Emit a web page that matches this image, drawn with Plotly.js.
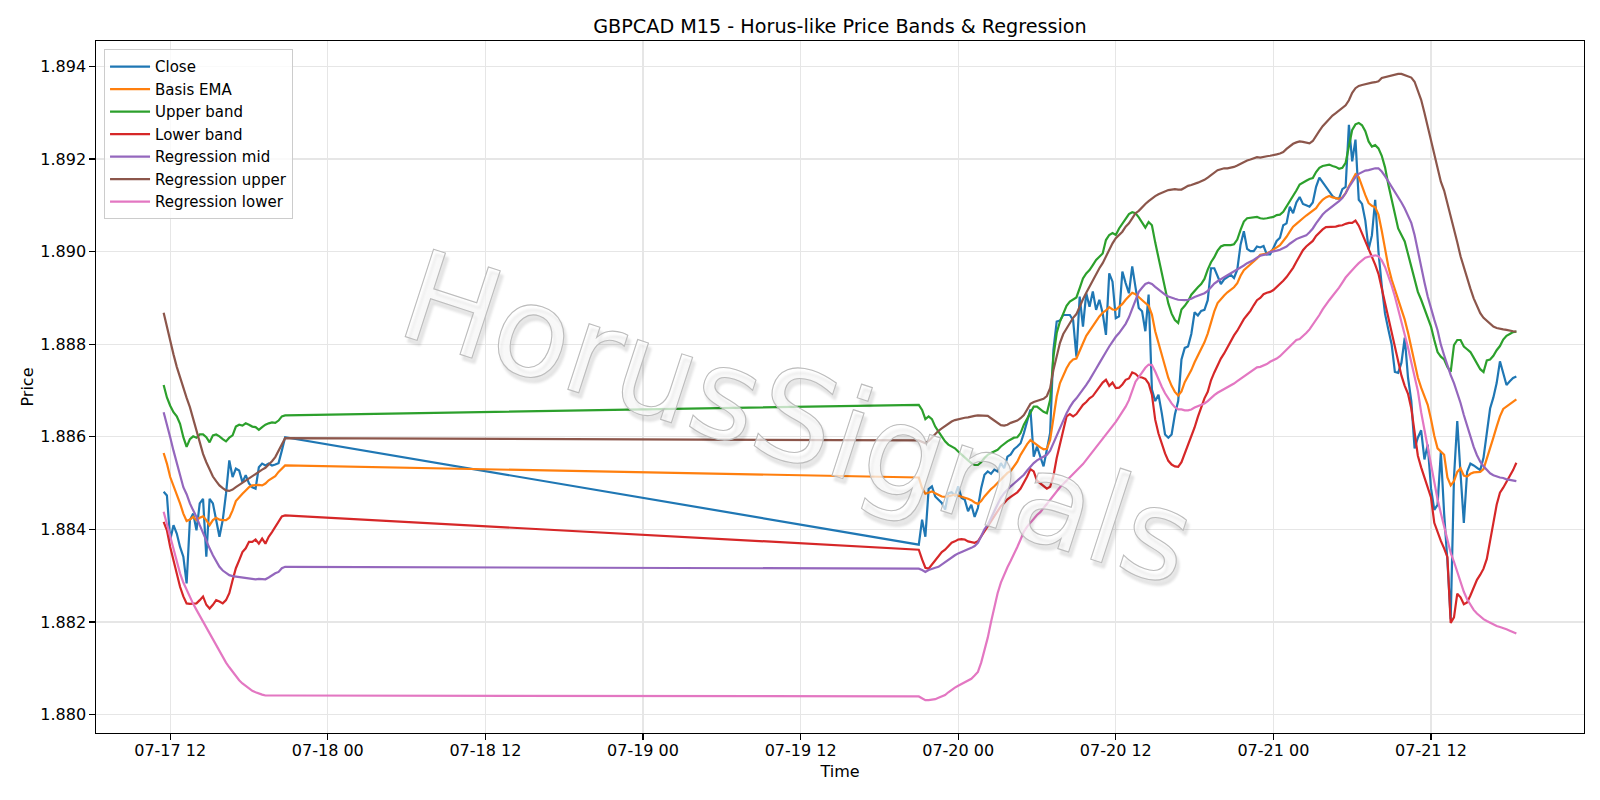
<!DOCTYPE html>
<html>
<head>
<meta charset="utf-8">
<script src="https://cdn.plot.ly/plotly-3.0.1.min.js"></script>
<style>
html,body{margin:0;padding:0;background:#fff;}
#chart{width:1600px;height:800px;}
#chart .annotation-text{stroke:#bcbcbc;stroke-width:1.1px;}
</style>
</head>
<body>
<div id="chart"></div>
<script>
// ---- data (GBPCAD M15) ----
const preStart = '2020-07-17 11:30';   // first session segment
const postStart = '2020-07-19 21:00';  // after weekend gap
const stepMinutes = 15;

const closePre = [1.88481,1.88473,1.88377,1.88409,1.88391,1.88362,1.88341,1.88283,1.88420,1.88434,1.88398,1.88456,1.88466,1.88341,1.88466,1.88456,1.88420,1.88384,1.88420,1.88477,1.88549,1.88513,1.88531,1.88527,1.88502,1.88517,1.88499,1.88491,1.88488,1.88534,1.88542,1.88538,1.88542,1.88538,1.88540,1.88543,1.88570,1.88599];
const closePost = [1.88367,1.88421,1.88384,1.88487,1.88493,1.88471,1.88464,1.88457,1.88443,1.88478,
1.88480,1.88473,1.88493,1.88468,1.88464,1.88439,1.88453,1.88427,1.88446,1.88489,
1.88518,1.88525,1.88520,1.88529,1.88525,1.88543,1.88532,1.88557,1.88562,1.88573,
1.88579,1.88586,1.88608,1.88633,1.88659,1.88557,1.88579,1.88557,1.88536,1.88572,
1.88608,1.88788,1.88849,1.88851,1.88863,1.88863,1.88863,1.88852,1.88773,1.88903,
1.88838,1.88910,1.88881,1.88914,1.88874,1.88896,1.88867,1.88820,1.88953,1.88935,
1.88856,1.88860,1.88957,1.88932,1.88910,1.88968,1.88925,1.88878,1.88871,1.88828,
1.88907,1.88702,1.88677,1.88691,1.88651,1.88605,1.88598,1.88605,1.88648,1.88677,
1.88767,1.88792,1.88795,1.88822,1.88869,1.88862,1.88872,1.88874,1.88895,1.88964,
1.88964,1.88946,1.88930,1.88940,1.88945,1.88950,1.88943,1.88961,1.89015,1.89044,
1.89006,1.89001,1.89001,1.89011,1.89009,1.89012,1.88994,1.88994,1.89008,1.89023,
1.89030,1.89057,1.89061,1.89097,1.89083,1.89106,1.89118,1.89103,1.89100,1.89097,
1.89106,1.89140,1.89160,1.89150,1.89138,1.89128,1.89120,1.89115,1.89115,1.89135,
1.89140,1.89274,1.89195,1.89242,1.89112,1.89103,1.89067,1.89005,1.89035,1.89112,
1.89000,1.88926,1.88866,1.88832,1.88800,1.88740,1.88738,1.88760,1.88814,1.88728,
1.88677,1.88575,1.88598,1.88614,1.88551,1.88583,1.88489,1.88442,1.88453,1.88567,
1.88434,1.88332,1.88206,1.88512,1.88634,1.88520,1.88414,1.88524,1.88542,1.88538,
1.88532,1.88528,1.88555,1.88606,1.88661,1.88685,1.88716,1.88763,1.88736,1.88712,
1.88720,1.88727,1.88730];

const emaPre = [1.88565,1.88542,1.88513,1.88495,1.88477,1.88456,1.88434,1.88418,1.88421,1.88427,1.88420,1.88425,1.88428,1.88420,1.88409,1.88420,1.88425,1.88421,1.88420,1.88420,1.88425,1.88441,1.88461,1.88470,1.88477,1.88484,1.88491,1.88495,1.88496,1.88496,1.88495,1.88499,1.88506,1.88511,1.88515,1.88524,1.88531,1.88538];
const emaPost = [1.88512,1.88489,1.88477,1.88480,1.88482,1.88478,1.88475,1.88471,1.88470,1.88471,
1.88473,1.88475,1.88473,1.88471,1.88469,1.88466,1.88463,1.88458,1.88455,1.88461,
1.88471,1.88480,1.88487,1.88493,1.88500,1.88507,1.88514,1.88522,1.88526,1.88537,
1.88546,1.88561,1.88573,1.88584,1.88593,1.88587,1.88582,1.88577,1.88573,1.88574,
1.88593,1.88644,1.88687,1.88716,1.88734,1.88748,1.88760,1.88767,1.88769,1.88784,
1.88802,1.88818,1.88829,1.88839,1.88849,1.88860,1.88868,1.88873,1.88880,1.88875,
1.88874,1.88880,1.88887,1.88896,1.88903,1.88911,1.88908,1.88901,1.88894,1.88889,
1.88883,1.88864,1.88828,1.88804,1.88777,1.88751,1.88727,1.88710,1.88697,1.88689,
1.88698,1.88718,1.88731,1.88744,1.88761,1.88775,1.88790,1.88804,1.88823,1.88849,
1.88871,1.88889,1.88898,1.88905,1.88912,1.88918,1.88923,1.88932,1.88948,1.88960,
1.88966,1.88972,1.88979,1.88985,1.88993,1.88994,1.88996,1.89000,1.89004,1.89009,
1.89014,1.89022,1.89032,1.89043,1.89054,1.89060,1.89065,1.89072,1.89078,1.89083,
1.89088,1.89094,1.89104,1.89112,1.89117,1.89120,1.89117,1.89115,1.89114,1.89117,
1.89126,1.89141,1.89155,1.89167,1.89161,1.89140,1.89122,1.89105,1.89099,1.89096,
1.89080,1.89045,1.89003,1.88968,1.88940,1.88918,1.88898,1.88877,1.88853,1.88825,
1.88792,1.88756,1.88728,1.88706,1.88686,1.88669,1.88638,1.88602,1.88575,1.88567,
1.88561,1.88512,1.88495,1.88504,1.88524,1.88532,1.88516,1.88514,1.88520,1.88523,
1.88524,1.88524,1.88530,1.88551,1.88575,1.88598,1.88622,1.88644,1.88660,1.88665,
1.88672,1.88677,1.88681];

const upperPre = [1.88712,1.88685,1.88667,1.88653,1.88644,1.88628,1.88599,1.88578,1.88595,1.88601,1.88598,1.88605,1.88605,1.88599,1.88588,1.88603,1.88605,1.88601,1.88595,1.88590,1.88598,1.88603,1.88622,1.88626,1.88624,1.88629,1.88626,1.88622,1.88621,1.88615,1.88621,1.88626,1.88629,1.88631,1.88630,1.88635,1.88644,1.88646];
const upperPost = [1.88669,1.88658,1.88638,1.88644,1.88638,1.88622,1.88611,1.88600,1.88590,1.88583,
1.88579,1.88575,1.88568,1.88561,1.88554,1.88549,1.88543,1.88539,1.88539,1.88545,
1.88554,1.88561,1.88565,1.88568,1.88572,1.88579,1.88585,1.88590,1.88594,1.88598,
1.88599,1.88608,1.88626,1.88640,1.88654,1.88665,1.88665,1.88659,1.88654,1.88651,
1.88680,1.88773,1.88824,1.88849,1.88868,1.88883,1.88892,1.88896,1.88901,1.88921,
1.88942,1.88953,1.88960,1.88971,1.88982,1.88989,1.88996,1.89025,1.89036,1.89040,
1.89036,1.89050,1.89061,1.89072,1.89081,1.89085,1.89083,1.89074,1.89063,1.89052,
1.89064,1.89057,1.89020,1.88988,1.88954,1.88918,1.88888,1.88866,1.88852,1.88846,
1.88875,1.88883,1.88893,1.88907,1.88916,1.88923,1.88930,1.88941,1.88961,1.88977,
1.88988,1.89002,1.89011,1.89014,1.89014,1.89014,1.89016,1.89026,1.89047,1.89065,
1.89072,1.89073,1.89073,1.89075,1.89072,1.89071,1.89072,1.89073,1.89075,1.89079,
1.89080,1.89086,1.89097,1.89110,1.89122,1.89132,1.89145,1.89150,1.89153,1.89157,
1.89159,1.89172,1.89181,1.89185,1.89186,1.89188,1.89185,1.89183,1.89179,1.89181,
1.89192,1.89232,1.89263,1.89275,1.89278,1.89273,1.89260,1.89238,1.89227,1.89230,
1.89223,1.89207,1.89182,1.89145,1.89115,1.89086,1.89050,1.89036,1.89022,1.88995,
1.88967,1.88938,1.88913,1.88896,1.88877,1.88861,1.88838,1.88809,1.88783,1.88773,
1.88767,1.88751,1.88740,1.88798,1.88809,1.88809,1.88795,1.88789,1.88783,1.88771,
1.88759,1.88746,1.88740,1.88765,1.88767,1.88775,1.88787,1.88796,1.88810,1.88818,
1.88822,1.88826,1.88827];

const lowerPre = [1.88416,1.88398,1.88362,1.88333,1.88305,1.88276,1.88255,1.88240,1.88239,1.88239,1.88240,1.88247,1.88255,1.88237,1.88229,1.88237,1.88247,1.88244,1.88240,1.88247,1.88262,1.88290,1.88316,1.88333,1.88351,1.88359,1.88373,1.88373,1.88378,1.88369,1.88380,1.88369,1.88384,1.88394,1.88405,1.88416,1.88428,1.88430];
const lowerPost = [1.88356,1.88335,1.88317,1.88315,1.88324,1.88335,1.88344,1.88351,1.88356,1.88364,
1.88371,1.88374,1.88378,1.88379,1.88378,1.88374,1.88372,1.88371,1.88374,1.88385,
1.88396,1.88407,1.88417,1.88428,1.88439,1.88450,1.88457,1.88465,1.88470,1.88475,
1.88480,1.88488,1.88500,1.88514,1.88530,1.88525,1.88505,1.88500,1.88494,1.88488,
1.88492,1.88515,1.88554,1.88586,1.88615,1.88644,1.88649,1.88644,1.88649,1.88658,
1.88669,1.88675,1.88683,1.88688,1.88697,1.88706,1.88717,1.88723,1.88710,1.88717,
1.88705,1.88706,1.88713,1.88723,1.88726,1.88739,1.88736,1.88729,1.88728,1.88725,
1.88715,1.88691,1.88637,1.88607,1.88583,1.88564,1.88548,1.88540,1.88536,1.88535,
1.88545,1.88563,1.88582,1.88601,1.88620,1.88643,1.88663,1.88683,1.88697,1.88722,
1.88739,1.88756,1.88769,1.88780,1.88794,1.88808,1.88819,1.88829,1.88842,1.88854,
1.88863,1.88872,1.88884,1.88895,1.88900,1.88908,1.88911,1.88913,1.88917,1.88923,
1.88930,1.88937,1.88945,1.88955,1.88965,1.88978,1.88990,1.89003,1.89011,1.89016,
1.89023,1.89034,1.89042,1.89048,1.89053,1.89053,1.89053,1.89054,1.89056,1.89057,
1.89060,1.89062,1.89062,1.89067,1.89056,1.89039,1.89023,1.89008,1.88987,1.88972,
1.88952,1.88921,1.88890,1.88852,1.88825,1.88796,1.88760,1.88732,1.88710,1.88693,
1.88661,1.88606,1.88559,1.88534,1.88512,1.88495,1.88469,1.88414,1.88393,1.88375,
1.88359,1.88340,1.88198,1.88210,1.88261,1.88253,1.88238,1.88242,1.88257,1.88275,
1.88291,1.88302,1.88315,1.88336,1.88371,1.88414,1.88453,1.88479,1.88490,1.88502,
1.88514,1.88528,1.88544];

const regMidPre = [1.88653,1.88628,1.88599,1.88570,1.88542,1.88517,1.88491,1.88476,1.88456,1.88441,1.88427,1.88409,1.88391,1.88373,1.88359,1.88344,1.88330,1.88319,1.88311,1.88305,1.88301,1.88299,1.88298,1.88296,1.88295,1.88294,1.88293,1.88293,1.88292,1.88293,1.88292,1.88292,1.88296,1.88301,1.88305,1.88308,1.88316,1.88319];
const regMidPost = [1.88315,1.88312,1.88308,1.88312,1.88315,1.88317,1.88319,1.88324,1.88329,1.88335,
1.88340,1.88344,1.88348,1.88351,1.88354,1.88356,1.88360,1.88364,1.88371,1.88385,
1.88400,1.88410,1.88425,1.88439,1.88453,1.88468,1.88478,1.88486,1.88493,1.88499,
1.88505,1.88511,1.88518,1.88527,1.88536,1.88543,1.88549,1.88553,1.88556,1.88561,
1.88570,1.88586,1.88602,1.88621,1.88636,1.88651,1.88664,1.88675,1.88683,1.88692,
1.88701,1.88712,1.88723,1.88734,1.88747,1.88759,1.88770,1.88783,1.88795,1.88806,
1.88816,1.88824,1.88834,1.88844,1.88858,1.88877,1.88896,1.88913,1.88922,1.88930,
1.88933,1.88930,1.88924,1.88918,1.88912,1.88907,1.88903,1.88900,1.88898,1.88896,
1.88895,1.88895,1.88896,1.88898,1.88902,1.88905,1.88907,1.88910,1.88915,1.88924,
1.88931,1.88936,1.88941,1.88945,1.88949,1.88953,1.88957,1.88961,1.88965,1.88970,
1.88975,1.88978,1.88982,1.88987,1.88991,1.88993,1.88994,1.88999,1.89000,1.89002,
1.89004,1.89007,1.89011,1.89017,1.89023,1.89027,1.89030,1.89032,1.89035,1.89042,
1.89050,1.89061,1.89071,1.89080,1.89087,1.89092,1.89099,1.89104,1.89109,1.89116,
1.89126,1.89139,1.89150,1.89161,1.89168,1.89172,1.89175,1.89176,1.89178,1.89180,
1.89180,1.89173,1.89163,1.89152,1.89138,1.89127,1.89117,1.89106,1.89093,1.89079,
1.89062,1.89036,1.89000,1.88968,1.88934,1.88903,1.88876,1.88853,1.88830,1.88799,
1.88776,1.88753,1.88733,1.88716,1.88696,1.88673,1.88647,1.88624,1.88600,1.88578,
1.88560,1.88546,1.88536,1.88528,1.88521,1.88517,1.88514,1.88512,1.88511,1.88508,
1.88507,1.88505,1.88504];

const regUpPre = [1.88868,1.88836,1.88804,1.88778,1.88751,1.88727,1.88703,1.88684,1.88664,1.88639,1.88610,1.88588,1.88563,1.88545,1.88531,1.88514,1.88504,1.88495,1.88489,1.88484,1.88483,1.88486,1.88491,1.88496,1.88501,1.88506,1.88511,1.88516,1.88520,1.88525,1.88529,1.88533,1.88539,1.88547,1.88556,1.88569,1.88583,1.88597];
const regUpPost = [1.88592,1.88589,1.88586,1.88591,1.88599,1.88606,1.88613,1.88618,1.88623,1.88629,
1.88633,1.88636,1.88638,1.88639,1.88641,1.88642,1.88644,1.88645,1.88646,1.88646,
1.88646,1.88645,1.88640,1.88635,1.88629,1.88625,1.88624,1.88626,1.88630,1.88633,
1.88635,1.88640,1.88647,1.88659,1.88671,1.88675,1.88677,1.88680,1.88682,1.88688,
1.88705,1.88744,1.88777,1.88803,1.88822,1.88834,1.88847,1.88857,1.88865,1.88883,
1.88897,1.88911,1.88925,1.88937,1.88950,1.88964,1.88975,1.88989,1.89006,1.89018,
1.89029,1.89036,1.89043,1.89054,1.89061,1.89072,1.89083,1.89088,1.89096,1.89103,
1.89109,1.89115,1.89120,1.89124,1.89127,1.89130,1.89133,1.89134,1.89135,1.89134,
1.89134,1.89138,1.89142,1.89144,1.89146,1.89149,1.89152,1.89155,1.89160,1.89165,
1.89171,1.89176,1.89178,1.89180,1.89180,1.89181,1.89183,1.89186,1.89190,1.89193,
1.89197,1.89199,1.89201,1.89204,1.89203,1.89205,1.89206,1.89207,1.89208,1.89210,
1.89212,1.89215,1.89222,1.89228,1.89233,1.89236,1.89238,1.89237,1.89236,1.89234,
1.89239,1.89251,1.89261,1.89271,1.89279,1.89287,1.89294,1.89299,1.89305,1.89310,
1.89316,1.89327,1.89343,1.89353,1.89358,1.89360,1.89362,1.89363,1.89365,1.89366,
1.89368,1.89375,1.89377,1.89379,1.89381,1.89383,1.89384,1.89384,1.89381,1.89379,
1.89376,1.89367,1.89346,1.89328,1.89300,1.89271,1.89238,1.89210,1.89179,1.89151,
1.89132,1.89104,1.89081,1.89049,1.89020,1.88990,1.88965,1.88944,1.88920,1.88899,
1.88881,1.88867,1.88857,1.88851,1.88844,1.88838,1.88835,1.88833,1.88832,1.88831,
1.88829,1.88828,1.88827];

const regLowPre = [1.88438,1.88412,1.88384,1.88355,1.88330,1.88305,1.88285,1.88269,1.88253,1.88239,1.88226,1.88213,1.88200,1.88187,1.88174,1.88161,1.88148,1.88136,1.88124,1.88112,1.88102,1.88092,1.88082,1.88074,1.88067,1.88061,1.88056,1.88051,1.88048,1.88045,1.88043,1.88041,1.88041,1.88041,1.88041,1.88041,1.88041,1.88041];
const regLowPost = [1.88039,1.88035,1.88031,1.88031,1.88032,1.88033,1.88036,1.88039,1.88042,1.88048,
1.88054,1.88058,1.88062,1.88066,1.88069,1.88073,1.88077,1.88084,1.88092,1.88112,
1.88138,1.88166,1.88200,1.88232,1.88262,1.88285,1.88303,1.88318,1.88332,1.88346,
1.88362,1.88378,1.88395,1.88406,1.88415,1.88424,1.88431,1.88437,1.88446,1.88455,
1.88465,1.88474,1.88483,1.88491,1.88498,1.88505,1.88512,1.88520,1.88527,1.88533,
1.88541,1.88550,1.88559,1.88568,1.88577,1.88587,1.88597,1.88606,1.88615,1.88623,
1.88632,1.88643,1.88653,1.88665,1.88679,1.88697,1.88719,1.88729,1.88740,1.88749,
1.88756,1.88755,1.88741,1.88723,1.88708,1.88694,1.88682,1.88672,1.88664,1.88659,
1.88659,1.88657,1.88657,1.88659,1.88663,1.88666,1.88669,1.88672,1.88677,1.88684,
1.88690,1.88695,1.88699,1.88702,1.88706,1.88711,1.88715,1.88720,1.88725,1.88730,
1.88734,1.88739,1.88744,1.88750,1.88751,1.88754,1.88757,1.88762,1.88765,1.88769,
1.88774,1.88781,1.88788,1.88795,1.88802,1.88809,1.88811,1.88817,1.88824,1.88832,
1.88842,1.88853,1.88863,1.88875,1.88886,1.88895,1.88904,1.88912,1.88922,1.88933,
1.88944,1.88952,1.88961,1.88968,1.88975,1.88982,1.88987,1.88989,1.88990,1.88992,
1.88990,1.88981,1.88967,1.88949,1.88927,1.88903,1.88877,1.88851,1.88823,1.88793,
1.88761,1.88727,1.88699,1.88653,1.88614,1.88577,1.88537,1.88499,1.88465,1.88435,
1.88404,1.88375,1.88349,1.88330,1.88308,1.88285,1.88265,1.88249,1.88236,1.88226,
1.88218,1.88211,1.88206,1.88202,1.88198,1.88194,1.88191,1.88189,1.88187,1.88184,
1.88181,1.88178,1.88175];

const seriesNames = ['Close','Basis EMA','Upper band','Lower band','Regression mid','Regression upper','Regression lower'];
const seriesColors = ['#1f77b4','#ff7f0e','#2ca02c','#d62728','#9467bd','#8c564b','#e377c2'];
const seriesPre = [closePre, emaPre, upperPre, lowerPre, regMidPre, regUpPre, regLowPre];
const seriesPost = [closePost, emaPost, upperPost, lowerPost, regMidPost, regUpPost, regLowPost];

const yTicks = [1.880,1.882,1.884,1.886,1.888,1.890,1.892,1.894];

// ---- build time axis (regular 15-minute bars) ----
function makeTimes(start, n) {
  const t0 = Date.parse(start.replace(' ', 'T') + ':00Z');
  const out = [];
  for (let i = 0; i < n; i++) {
    out.push(new Date(t0 + i * stepMinutes * 60000).toISOString().slice(0, 19).replace('T', ' '));
  }
  return out;
}

const FONT = 'DejaVu Sans, Liberation Sans, sans-serif';
const FS = 16;

const traces = seriesNames.map((name, k) => ({
  type: 'scatter',
  mode: 'lines',
  name: name,
  x: makeTimes(preStart, seriesPre[k].length).concat(makeTimes(postStart, seriesPost[k].length)),
  y: seriesPre[k].concat(seriesPost[k]),
  line: {color: seriesColors[k], width: 2.2},
  hoverinfo: 'skip'
}));

const layout = {
  width: 1600,
  height: 800,
  margin: {l: 96, r: 16, t: 41, b: 67, pad: 0},
  paper_bgcolor: '#ffffff',
  plot_bgcolor: '#ffffff',
  font: {family: FONT, size: FS, color: '#000000'},
  title: {
    text: 'GBPCAD M15 - Horus-like Price Bands &amp; Regression',
    font: {family: FONT, size: 19.2, color: '#000000'},
    x: 0.5, xref: 'paper', xanchor: 'center',
    y: 1 - 26 / 800, yref: 'container', yanchor: 'middle'
  },
  xaxis: {
    type: 'date',
    range: ['2020-07-17 06:21', '2020-07-21 23:39'],
    tick0: '2020-07-17 00:00',
    dtick: 12 * 3600 * 1000,
    tickformat: '%m-%d %H',
    showgrid: true, gridcolor: '#e6e6e6', gridwidth: 1.2,
    zeroline: false,
    showline: true, linecolor: '#000000', linewidth: 1.2, mirror: true,
    ticks: 'outside', ticklen: 5.5, tickwidth: 1.2, tickcolor: '#000000',
    ticklabelstandoff: -3,
    tickfont: {family: FONT, size: FS, color: '#000000'},
    title: {text: 'Time', font: {family: FONT, size: FS, color: '#000000'}, standoff: 6}
  },
  yaxis: {
    range: [1.87960, 1.89455],
    tickvals: yTicks,
    tickformat: '.3f',
    showgrid: true, gridcolor: '#e6e6e6', gridwidth: 1.2,
    zeroline: false,
    showline: true, linecolor: '#000000', linewidth: 1.2, mirror: true,
    ticks: 'outside', ticklen: 5.5, tickwidth: 1.2, tickcolor: '#000000',
    tickfont: {family: FONT, size: FS, color: '#000000'},
    title: {text: 'Price', font: {family: FONT, size: FS, color: '#000000'}, standoff: 2}
  },
  legend: {
    x: 0.0054, y: 0.988, xanchor: 'left', yanchor: 'top',
    bgcolor: 'rgba(255,255,255,0.8)', bordercolor: '#cccccc', borderwidth: 1,
    font: {family: FONT, size: 15, color: '#000000'},
    itemwidth: 40,
    traceorder: 'normal'
  },
  showlegend: true,
  annotations: [{
    text: 'HorusSignals',
    xref: 'paper', yref: 'paper', x: 0.472, y: 0.455,
    xanchor: 'center', yanchor: 'middle',
    showarrow: false, textangle: 18,
    font: {
      family: FONT, size: 126, color: 'rgba(255,255,255,0.72)',
      shadow: '4px 4px 3px rgba(0,0,0,0.13)'
    }
  }]
};

Plotly.newPlot('chart', traces, layout, {displayModeBar: false, staticPlot: true});
</script>
</body>
</html>
